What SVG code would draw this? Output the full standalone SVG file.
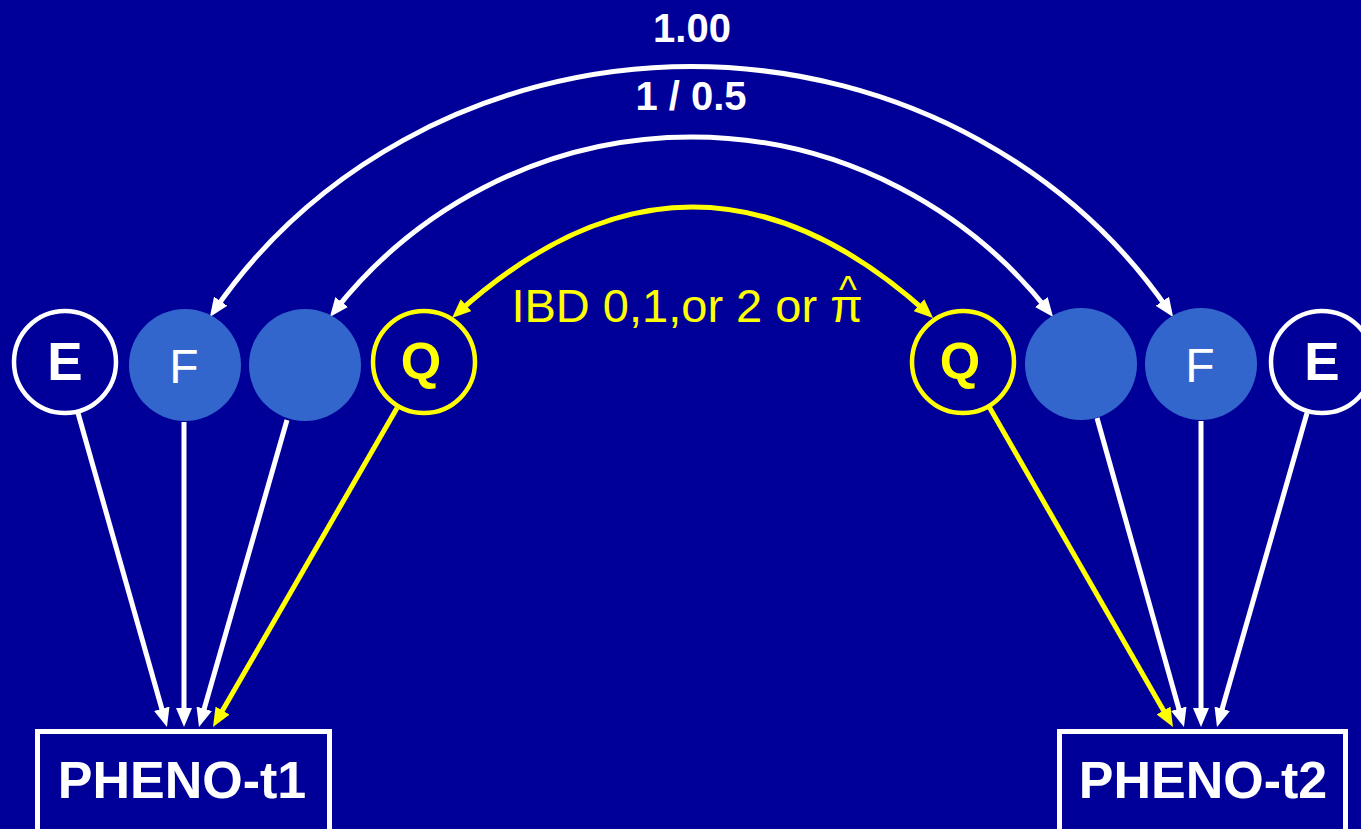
<svg xmlns="http://www.w3.org/2000/svg" width="1361" height="829" viewBox="0 0 1361 829">
<defs>
<marker id="aw" markerUnits="userSpaceOnUse" markerWidth="19" markerHeight="16" viewBox="0 0 19 16" refX="11" refY="8" orient="auto-start-reverse">
<path d="M0,0 L19,8 L0,16 z" fill="#FFFFFF"/>
</marker>
<marker id="ay" markerUnits="userSpaceOnUse" markerWidth="19" markerHeight="16" viewBox="0 0 19 16" refX="11" refY="8" orient="auto-start-reverse">
<path d="M0,0 L19,8 L0,16 z" fill="#FFFF00"/>
</marker>
<style>
.ring{fill:#000099;stroke:#FFFFFF;stroke-width:4.5}
.ringy{fill:#000099;stroke:#FFFF00;stroke-width:4.5}
.disc{fill:#3366CC}
.box{fill:#000099;stroke:#FFFFFF;stroke-width:5}
.lw{fill:none;stroke:#FFFFFF;stroke-width:5}
.ly{fill:none;stroke:#FFFF00;stroke-width:5}
.t{font-family:"Liberation Sans",Arial,sans-serif;text-anchor:middle}
.b{font-weight:bold}
</style>
</defs>
<rect x="0" y="0" width="1361" height="829" fill="#000099"/>

<g id="connectors">
<path class="lw" d="M214.4,310.3 A568,533 0 0 1 1168.6,310.3" marker-start="url(#aw)" marker-end="url(#aw)"/>
<path class="lw" d="M334.85,310.64 A456.8,463 0 0 1 1048.15,310.64" marker-start="url(#aw)" marker-end="url(#aw)"/>
<path class="ly" d="M457.9,312.6 Q692.5,101.4 927.1,312.6" marker-start="url(#ay)" marker-end="url(#ay)"/>
<line class="lw" x1="78" y1="413" x2="164.8" y2="719.3" marker-end="url(#aw)"/>
<line class="lw" x1="184" y1="422" x2="184" y2="719" marker-end="url(#aw)"/>
<line class="lw" x1="287" y1="420" x2="201.2" y2="719.3" marker-end="url(#aw)"/>
<line class="ly" x1="397" y1="408" x2="217" y2="720.1" marker-end="url(#ay)"/>
<line class="ly" x1="987" y1="403" x2="1169" y2="720.1" marker-end="url(#ay)"/>
<line class="lw" x1="1097" y1="418" x2="1181.8" y2="719.3" marker-end="url(#aw)"/>
<line class="lw" x1="1201" y1="421" x2="1201" y2="719" marker-end="url(#aw)"/>
<line class="lw" x1="1307" y1="413" x2="1219.2" y2="719.3" marker-end="url(#aw)"/>
</g>

<g id="labels">
<text class="t b" x="692" y="42" font-size="40" fill="#FFFFFF">1.00</text>
<text class="t b" x="691" y="110" font-size="40" fill="#FFFFFF">1 / 0.5</text>
<text class="t" x="687" y="322" font-size="47" fill="#FFFF00">IBD 0,1,or 2 or π<tspan x="848" y="303" font-size="38">^</tspan></text>
</g>

<g id="E1"><circle class="ring" cx="65" cy="362" r="51"/><text class="t b" x="65" y="380" font-size="53" fill="#FFFFFF">E</text></g>
<g id="F1"><circle class="disc" cx="185" cy="365" r="56"/><text class="t" x="184" y="383" font-size="48" fill="#FFFFFF">F</text></g>
<g id="A1"><circle class="disc" cx="305" cy="365" r="56"/></g>
<g id="Q1"><circle class="ringy" cx="424" cy="362" r="51"/><text class="t b" x="421" y="379" font-size="52" fill="#FFFF00">Q</text></g>
<g id="Q2"><circle class="ringy" cx="963" cy="362" r="51"/><text class="t b" x="960" y="379" font-size="52" fill="#FFFF00">Q</text></g>
<g id="A2"><circle class="disc" cx="1081" cy="364" r="56"/></g>
<g id="F2"><circle class="disc" cx="1201" cy="364" r="56"/><text class="t" x="1200" y="382" font-size="48" fill="#FFFFFF">F</text></g>
<g id="E2"><circle class="ring" cx="1322" cy="362" r="51"/><text class="t b" x="1322" y="380" font-size="53" fill="#FFFFFF">E</text></g>

<g id="P1"><rect class="box" x="37.5" y="731.5" width="292" height="110"/><text class="t b" x="182" y="798" font-size="52" fill="#FFFFFF">PHENO-t1</text></g>
<g id="P2"><rect class="box" x="1059.5" y="731.5" width="286" height="110"/><text class="t b" x="1203" y="798" font-size="52" fill="#FFFFFF">PHENO-t2</text></g>
</svg>
